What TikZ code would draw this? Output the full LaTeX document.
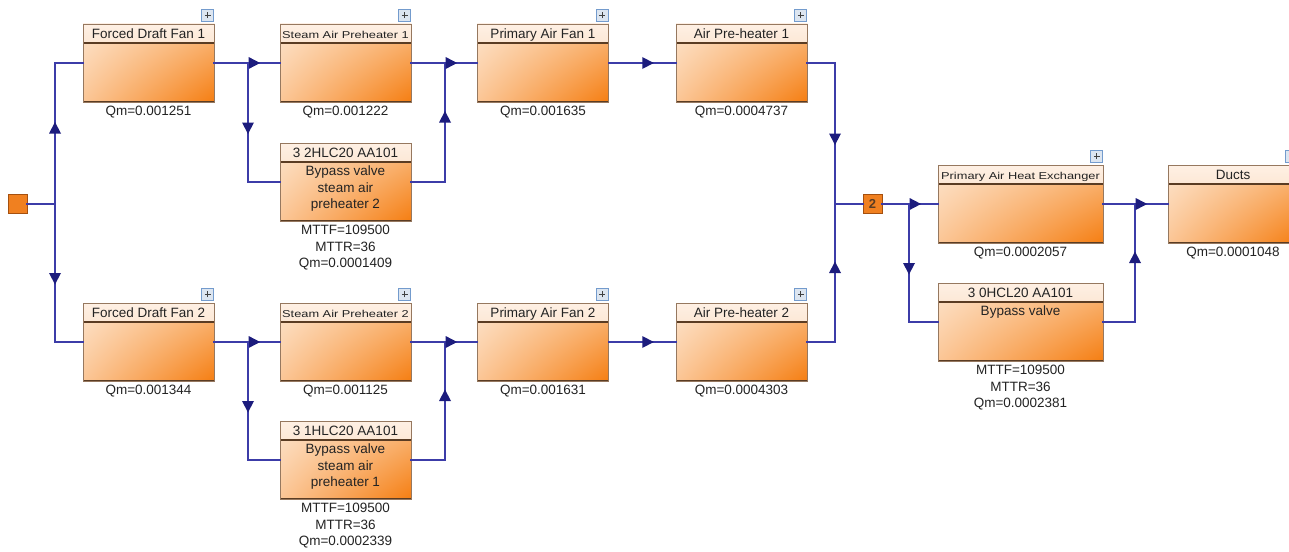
\documentclass[tikz,border=0pt]{standalone}
\usepackage{fontspec}
\setmainfont{Liberation Sans}
\usepackage{graphicx}
\usetikzlibrary{shadings,decorations.markings}

\definecolor{wire}{RGB}{60,60,168}
\definecolor{tipclr}{RGB}{28,28,125}
\definecolor{hdrtop}{RGB}{254,240,228}
\definecolor{hdrbot}{RGB}{249,208,170}
\definecolor{bodyul}{RGB}{253,229,206}
\definecolor{bodyur}{RGB}{250,188,130}
\definecolor{bodyll}{RGB}{251,198,150}
\definecolor{bodylr}{RGB}{245,126,18}
\definecolor{edgeclr}{RGB}{150,120,95}
\definecolor{sepline}{RGB}{90,60,35}
\definecolor{txt}{RGB}{35,35,35}
\definecolor{srcfill}{RGB}{240,128,32}
\definecolor{srcedge}{RGB}{165,80,15}
\definecolor{plusedge}{RGB}{115,155,205}
\definecolor{plusfill}{RGB}{220,229,240}

\newcommand\narrowtxt[1]{\scalebox{1.28}[1]{\fontsize{10pt}{12pt}\selectfont #1}}

\tikzset{
  unit/.style={rectangle,inner sep=0pt,minimum width=131pt,minimum height=78pt,
    upper left=bodyul,upper right=bodyur,lower left=bodyll,lower right=bodylr,
    draw=edgeclr,line width=0.6pt,
    path picture={
      \shade[top color=hdrtop,bottom color=hdrbot]
        (path picture bounding box.north west) rectangle ([yshift=-19pt]path picture bounding box.north east);
      \draw[sepline,line width=1.8pt] ([yshift=-19pt]path picture bounding box.north west)
        -- ([yshift=-19pt]path picture bounding box.north east);
      \draw[sepline,line width=2pt] (path picture bounding box.south west)
        -- (path picture bounding box.south east);
    }},
  wideunit/.style={unit,minimum width=165pt},
  hdr/.style={anchor=base,inner sep=0pt,text=txt},
  note/.style={anchor=north,inner sep=0pt,align=center,text=txt},
  plusbox/.style={rectangle,anchor=south east,draw=plusedge,fill=plusfill,line width=0.9pt,
    minimum size=12pt,inner sep=0pt,
    path picture={\draw[black!75,line width=1pt]
      ([xshift=-3pt]path picture bounding box.center) -- ([xshift=3pt]path picture bounding box.center)
      ([yshift=-3pt]path picture bounding box.center) -- ([yshift=3pt]path picture bounding box.center);}},
  srcbox/.style={rectangle,minimum size=19pt,inner sep=0pt,fill=srcfill,draw=srcedge,line width=0.8pt},
  flow/.style={draw=wire,line width=1.9pt,line cap=rect},
  arrowat/.style={postaction={decorate},decoration={markings,
    mark=at position #1 with {\fill[tipclr] (0pt,-6pt) -- (11.5pt,0pt) -- (0pt,6pt) -- cycle;}}}
}

\begin{document}
\begin{tikzpicture}[x=1pt,y=-1pt,font=\fontsize{13.5pt}{16.5pt}\selectfont]
\useasboundingbox (0,0) rectangle (1289,551);
\clip (0,0) rectangle (1289,551);

% upper line
\node[unit] (fd1) at (148.5,63) {};
\node[hdr] (fd1t) at ([yshift=-14.5pt]fd1.north) {Forced Draft Fan 1};
\node[note] (fd1q) at ([yshift=-4pt]fd1.south) {Qm=0.001251};
\node[plusbox] (fd1p) at ([yshift=2pt]fd1.north east) {};
\node[unit] (sap1) at (345.5,63) {};
\node[hdr] (sap1t) at ([yshift=-14.5pt]sap1.north) {\narrowtxt{Steam Air Preheater 1}};
\node[note] (sap1q) at ([yshift=-4pt]sap1.south) {Qm=0.001222};
\node[plusbox] (sap1p) at ([yshift=2pt]sap1.north east) {};
\node[unit] (bp1) at (345.5,182) {};
\node[hdr] (bp1t) at ([yshift=-14.5pt]bp1.north) {3 2HLC20 AA101};
\node[note] (bp1b) at ([yshift=-23pt]bp1.north) {Bypass valve\\steam air\\preheater 2};
\node[note] (bp1q) at ([yshift=-4pt]bp1.south) {MTTF=109500\\MTTR=36\\Qm=0.0001409};
\node[unit] (paf1) at (543,63) {};
\node[hdr] (paf1t) at ([yshift=-14.5pt]paf1.north) {Primary Air Fan 1};
\node[note] (paf1q) at ([yshift=-4pt]paf1.south) {Qm=0.001635};
\node[plusbox] (paf1p) at ([yshift=2pt]paf1.north east) {};
\node[unit] (aph1) at (741.5,63) {};
\node[hdr] (aph1t) at ([yshift=-14.5pt]aph1.north) {Air Pre-heater 1};
\node[note] (aph1q) at ([yshift=-4pt]aph1.south) {Qm=0.0004737};
\node[plusbox] (aph1p) at ([yshift=2pt]aph1.north east) {};

% lower line
\node[unit] (fd2) at (148.5,342) {};
\node[hdr] (fd2t) at ([yshift=-14.5pt]fd2.north) {Forced Draft Fan 2};
\node[note] (fd2q) at ([yshift=-4pt]fd2.south) {Qm=0.001344};
\node[plusbox] (fd2p) at ([yshift=2pt]fd2.north east) {};
\node[unit] (sap2) at (345.5,342) {};
\node[hdr] (sap2t) at ([yshift=-14.5pt]sap2.north) {\narrowtxt{Steam Air Preheater 2}};
\node[note] (sap2q) at ([yshift=-4pt]sap2.south) {Qm=0.001125};
\node[plusbox] (sap2p) at ([yshift=2pt]sap2.north east) {};
\node[unit] (bp2) at (345.5,460) {};
\node[hdr] (bp2t) at ([yshift=-14.5pt]bp2.north) {3 1HLC20 AA101};
\node[note] (bp2b) at ([yshift=-23pt]bp2.north) {Bypass valve\\steam air\\preheater 1};
\node[note] (bp2q) at ([yshift=-4pt]bp2.south) {MTTF=109500\\MTTR=36\\Qm=0.0002339};
\node[unit] (paf2) at (543,342) {};
\node[hdr] (paf2t) at ([yshift=-14.5pt]paf2.north) {Primary Air Fan 2};
\node[note] (paf2q) at ([yshift=-4pt]paf2.south) {Qm=0.001631};
\node[plusbox] (paf2p) at ([yshift=2pt]paf2.north east) {};
\node[unit] (aph2) at (741.5,342) {};
\node[hdr] (aph2t) at ([yshift=-14.5pt]aph2.north) {Air Pre-heater 2};
\node[note] (aph2q) at ([yshift=-4pt]aph2.south) {Qm=0.0004303};
\node[plusbox] (aph2p) at ([yshift=2pt]aph2.north east) {};

% common part
\node[srcbox] (src) at (17.5,204) {};
\node[srcbox,text=sepline,font=\fontsize{13pt}{15pt}\selectfont\bfseries] (two) at (872.5,204) {2};
\node[wideunit] (pahe) at (1020.5,204) {};
\node[hdr] (pahet) at ([yshift=-14.5pt]pahe.north) {\narrowtxt{Primary Air Heat Exchanger}};
\node[note] (paheq) at ([yshift=-4pt]pahe.south) {Qm=0.0002057};
\node[plusbox] (pahep) at ([yshift=2pt]pahe.north east) {};
\node[wideunit] (bpv) at (1020.5,322) {};
\node[hdr] (bpvt) at ([yshift=-14.5pt]bpv.north) {3 0HCL20 AA101};
\node[note] (bpvb) at ([yshift=-23pt]bpv.north) {Bypass valve};
\node[note] (bpvq) at ([yshift=-4pt]bpv.south) {MTTF=109500\\MTTR=36\\Qm=0.0002381};
\node[unit,minimum width=130pt] (ducts) at (1233,204) {};
\node[hdr] (ductst) at ([yshift=-14.5pt]ducts.north) {Ducts};
\node[note] (ductsq) at ([yshift=-4pt]ducts.south) {Qm=0.0001048};
\node[plusbox] (ductsp) at ([yshift=2pt]ducts.north east) {};

% junctions
\coordinate (jL) at (55,204);
\coordinate (jLa) at (55,63);
\coordinate (jLc) at (55,342);
\coordinate (s1) at (248,63);
\coordinate (s1b) at (248,182);
\coordinate (m1) at (445,63);
\coordinate (m1b) at (445,182);
\coordinate (s2) at (248,342);
\coordinate (s2b) at (248,460);
\coordinate (m2) at (445,342);
\coordinate (m2b) at (445,460);
\coordinate (jR) at (835,204);
\coordinate (jRa) at (835,63);
\coordinate (jRc) at (835,342);
\coordinate (s3) at (909,204);
\coordinate (s3b) at (909,322);
\coordinate (m3) at (1135,204);
\coordinate (m3b) at (1135,322);

\draw[flow] (src) -- (jL);
\draw[flow,arrowat=0.5] (jL) -- (jLa);
\draw[flow] (jLa) -- (fd1);
\draw[flow,arrowat=0.5] (jL) -- (jLc);
\draw[flow] (jLc) -- (fd2);
% upper connectors
\draw[flow] (fd1) -- (s1);
\draw[flow,arrowat=0.02] (s1) -- (sap1);
\draw[flow,arrowat=0.5] (s1) -- (s1b);
\draw[flow] (s1b) -- (bp1);
\draw[flow] (sap1) -- (m1);
\draw[flow] (bp1) -- (m1b);
\draw[flow,arrowat=0.5] (m1b) -- (m1);
\draw[flow,arrowat=0.02] (m1) -- (paf1);
\draw[flow,arrowat=0.5] (paf1) -- (aph1);
\draw[flow] (aph1) -- (jRa);
\draw[flow,arrowat=0.5] (jRa) -- (jR);
% lower connectors
\draw[flow] (fd2) -- (s2);
\draw[flow,arrowat=0.02] (s2) -- (sap2);
\draw[flow,arrowat=0.5] (s2) -- (s2b);
\draw[flow] (s2b) -- (bp2);
\draw[flow] (sap2) -- (m2);
\draw[flow] (bp2) -- (m2b);
\draw[flow,arrowat=0.5] (m2b) -- (m2);
\draw[flow,arrowat=0.02] (m2) -- (paf2);
\draw[flow,arrowat=0.5] (paf2) -- (aph2);
\draw[flow] (aph2) -- (jRc);
\draw[flow,arrowat=0.5] (jRc) -- (jR);
% after the vote
\draw[flow] (jR) -- (two);
\draw[flow] (two) -- (s3);
\draw[flow,arrowat=0.02] (s3) -- (pahe);
\draw[flow,arrowat=0.5] (s3) -- (s3b);
\draw[flow] (s3b) -- (bpv);
\draw[flow] (pahe) -- (m3);
\draw[flow] (bpv) -- (m3b);
\draw[flow,arrowat=0.5] (m3b) -- (m3);
\draw[flow,arrowat=0.02] (m3) -- (ducts);
\end{tikzpicture}
\end{document}
